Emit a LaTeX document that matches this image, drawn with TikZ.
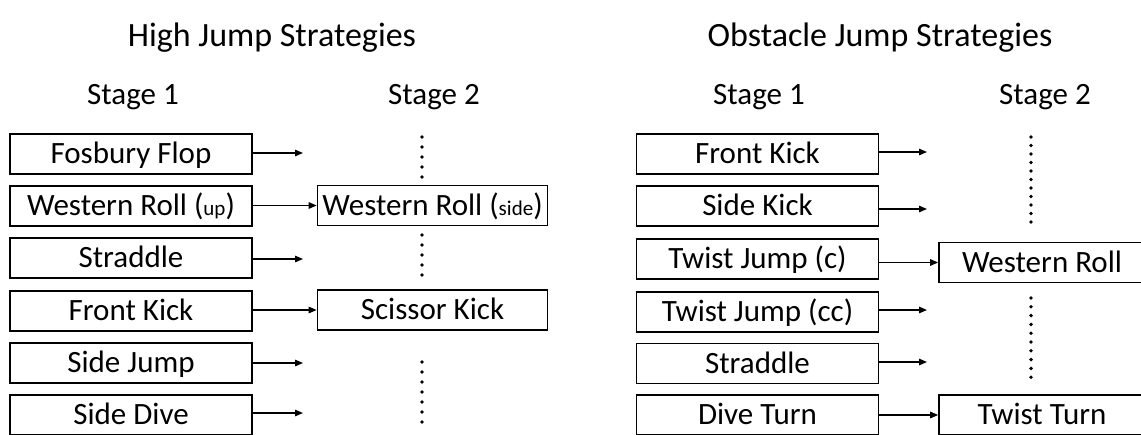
\documentclass[tikz,border=0pt]{standalone}
\usepackage{fontspec}
\setmainfont{Carlito}
\usetikzlibrary{arrows.meta}

\begin{document}
\begin{tikzpicture}[x=1pt,y=-1pt,
  box/.style={draw=black,line width=1.7pt,inner sep=0pt,minimum height=40pt,
              text height=26pt,text depth=7pt,
              font=\fontsize{31}{36}\selectfont},
  lbox/.style={box,minimum width=242pt},
  sbox/.style={box,minimum width=230pt},
  arr/.style={line width=1.4pt,-{Triangle[length=8pt,width=6.5pt]}},
  vdots/.style={line width=3.8pt,line cap=round,dash pattern=on 0pt off #1},
  title/.style={anchor=base,font=\fontsize{34}{40}\selectfont},
  stage/.style={anchor=base,font=\fontsize{31}{36}\selectfont}]
\newcommand{\sm}[1]{{\fontsize{21}{24}\selectfont #1}}

\clip (0,0) rectangle (1141,434);
\fill[white] (0,0) rectangle (1141,434);

% headings
\node[title] (t1) at (272,46) {High Jump Strategies};
\node[title] (t2) at (880,46) {Obstacle Jump Strategies};
\node[stage] (s11) at (133,104) {Stage 1};
\node[stage] (s12) at (434,104) {Stage 2};
\node[stage] (s21) at (759,104) {Stage 1};
\node[stage] (s22) at (1045,104) {Stage 2};

% high jump, stage 1
\node[lbox] (h1) at (131,154) {Fosbury Flop};
\node[lbox] (h2) at (131,206) {Western Roll (\sm{up})};
\node[lbox] (h3) at (131,258) {Straddle};
\node[lbox] (h4) at (131,311) {Front Kick};
\node[lbox] (h5) at (131,363) {Side Jump};
\node[lbox] (h6) at (131,415) {Side Dive};

% high jump, stage 2
\node[sbox] (h2b) at (432.5,205.5) {Western Roll (\sm{side})};
\node[sbox] (h4b) at (432.5,310) {Scissor Kick};

% open ends of the short arrows
\coordinate (e1) at (303,153);
\coordinate (e3) at (303,259);
\coordinate (e5) at (303,363);
\coordinate (e6) at (303,413);

\draw[arr] (h1.east |- e1) -- (e1);
\draw[arr] (h2.east |- h2b.west) -- (h2b.west);
\draw[arr] (h3.east |- e3) -- (e3);
\draw[arr] (h4.east |- h4b.west) -- (h4b.west);
\draw[arr] (h5.east |- e5) -- (e5);
\draw[arr] (h6.east |- e6) -- (e6);

% omitted stage-2 entries
\draw[vdots=10pt] (422,137) -- (422,177.5);
\draw[vdots=10pt] (422,235) -- (422,275.5);
\draw[vdots=10pt] (422,362) -- (422,422.5);

% obstacle jump, stage 1
\node[lbox] (o1) at (757.5,154) {Front Kick};
\node[lbox] (o2) at (757.5,206) {Side Kick};
\node[lbox] (o3) at (757.5,259) {Twist Jump (c)};
\node[lbox] (o4) at (757.5,312) {Twist Jump (cc)};
\node[lbox] (o5) at (757.5,363.5) {Straddle};
\node[lbox] (o6) at (757.5,415) {Dive Turn};

% obstacle jump, stage 2 (boxes run on past the right edge)
\node[box,minimum width=206pt] (o3b) at (1042,262.5) {Western Roll};
\node[box,minimum width=206pt] (o6b) at (1042,415) {Twist Turn};

\coordinate (f1) at (927,152);
\coordinate (f2) at (927,209);
\coordinate (f4) at (927,310);
\coordinate (f5) at (927,362);

\draw[arr] (o1.east |- f1) -- (f1);
\draw[arr] (o2.east |- f2) -- (f2);
\draw[arr] (o3.east |- o3b.west) -- (o3b.west);
\draw[arr] (o4.east |- f4) -- (f4);
\draw[arr] (o5.east |- f5) -- (f5);
\draw[arr] (o6.east |- o6b.west) -- (o6b.west);

\draw[vdots=8.5pt] (1031,137) -- (1031,222.5);
\draw[vdots=8.8pt] (1031,298) -- (1031,377.5);
\end{tikzpicture}
\end{document}
